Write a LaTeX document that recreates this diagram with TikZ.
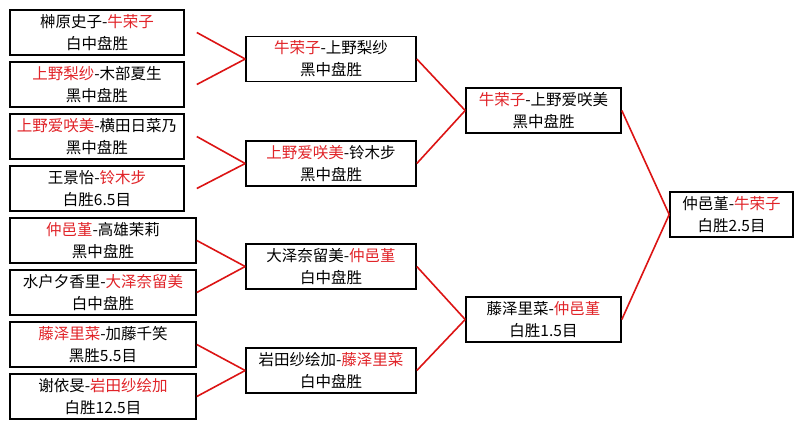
\documentclass[tikz,border=0pt]{standalone}
\usepackage{fontspec}
\newfontfamily\cjk{Noto Sans CJK SC}
\definecolor{namered}{RGB}{225,35,40}
\definecolor{linkred}{RGB}{220,20,20}
\newcommand\redname[1]{\textcolor{namered}{#1}}
\begin{document}
\begin{tikzpicture}[x=1pt,y=-1pt,
  box/.style={draw=black, line width=1.6pt, inner sep=0pt, minimum height=45pt,
    align=center, font=\cjk\fontsize{15.5}{22}\selectfont},
  link/.style={draw=linkred, line width=1.6pt}]
\useasboundingbox (0,0) rectangle (803,429);
\fill[white] (0,0) rectangle (803,429);
% round 1
\node[box, minimum width=174pt] (b1) at (97,32.5) {榊原史子-\redname{牛荣子}\\白中盘胜};
\node[box, minimum width=174pt] (b2) at (97,84.5) {\redname{上野梨纱}-木部夏生\\黑中盘胜};
\node[box, minimum width=174pt] (b3) at (97,136.5) {\redname{上野爱咲美}-横田日菜乃\\黑中盘胜};
\node[box, minimum width=174pt] (b4) at (97,188.5) {王景怡-\redname{铃木步}\\白胜6.5目};
\node[box, minimum width=186pt] (b5) at (103,240.5) {\redname{仲邑堇}-高雄茉莉\\黑中盘胜};
\node[box, minimum width=186pt] (b6) at (103,292.5) {水户夕香里-\redname{大泽奈留美}\\白中盘胜};
\node[box, minimum width=186pt] (b7) at (103,344.5) {\redname{藤泽里菜}-加藤千笑\\黑胜5.5目};
\node[box, minimum width=186pt] (b8) at (103,396.5) {谢依旻-\redname{岩田纱绘加}\\白胜12.5目};
% round 2
\node[box, minimum width=170pt] (r1) at (331,59) {\redname{牛荣子}-上野梨纱\\黑中盘胜};
\node[box, minimum width=170pt] (r2) at (331,163.5) {\redname{上野爱咲美}-铃木步\\黑中盘胜};
\node[box, minimum width=170pt] (r3) at (331,266.5) {大泽奈留美-\redname{仲邑堇}\\白中盘胜};
\node[box, minimum width=170pt] (r4) at (331,370.5) {岩田纱绘加-\redname{藤泽里菜}\\白中盘胜};
% round 3
\node[box, minimum width=155pt] (s1) at (543.5,110.5) {\redname{牛荣子}-上野爱咲美\\黑中盘胜};
\node[box, minimum width=155pt] (s2) at (543.5,319.5) {藤泽里菜-\redname{仲邑堇}\\白胜1.5目};
% final
\node[box, minimum width=123pt] (f) at (731.5,214.5) {仲邑堇-\redname{牛荣子}\\白胜2.5目};
% connectors
\draw[link] (b1.east -| b5.east) -- (r1.west);
\draw[link] (b2.east -| b5.east) -- (r1.west);
\draw[link] (b3.east -| b5.east) -- (r2.west);
\draw[link] (b4.east -| b5.east) -- (r2.west);
\draw[link] (b5.east) -- (r3.west);
\draw[link] (b6.east) -- (r3.west);
\draw[link] (b7.east) -- (r4.west);
\draw[link] (b8.east) -- (r4.west);
\draw[link] (r1.east) -- (s1.west);
\draw[link] (r2.east) -- (s1.west);
\draw[link] (r3.east) -- (s2.west);
\draw[link] (r4.east) -- (s2.west);
\draw[link] (s1.east) -- (f.west);
\draw[link] (s2.east) -- (f.west);
\end{tikzpicture}
\end{document}
